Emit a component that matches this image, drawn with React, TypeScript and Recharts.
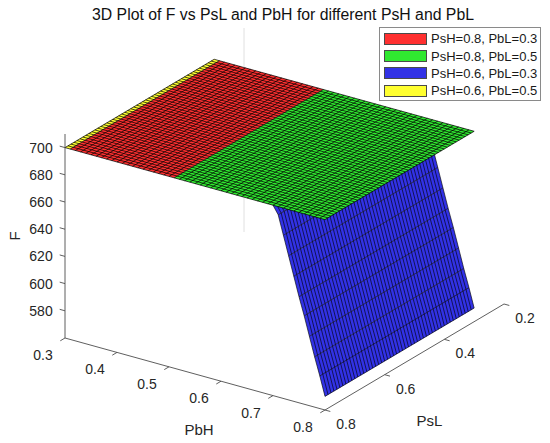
import { ComposedChart, XAxis, YAxis, Area, Line, ReferenceDot, Legend } from "recharts";

const FONT = '"Liberation Sans", Arial, Helvetica, sans-serif';

const SERIES_NAMES = ["PsH=0.8, PbL=0.3", "PsH=0.8, PbL=0.5", "PsH=0.6, PbL=0.3", "PsH=0.6, PbL=0.5"];
const SERIES_COLORS = ["#ff3030", "#30e830", "#3232e6", "#ffff30"];

// surface nodes, same list used for PbH and PsL
const MESH = [
  0.3, 0.31, 0.32, 0.33, 0.34, 0.35, 0.36, 0.37, 0.38, 0.39, 0.4, 0.41, 0.42, 0.43, 0.44, 0.45, 0.46,
  0.47, 0.48, 0.49, 0.5, 0.51, 0.52, 0.53, 0.54, 0.55, 0.56, 0.57, 0.58, 0.59, 0.6, 0.61, 0.62, 0.63,
  0.64, 0.65, 0.66, 0.67, 0.68, 0.69, 0.7, 0.71, 0.72, 0.73, 0.74, 0.75, 0.76, 0.77, 0.78, 0.79, 0.8,
];

// flat top shared by the surfaces, and which one shows through where (PbH bands)
const PLATEAU_F = 700;
const BAND_SERIES = [3, 0, 1];
const BAND_FROM = [0.3, 0.31, 0.51];
const BAND_TO = [0.31, 0.51, 0.8];

// PsH=0.6, PbL=0.3 drops off at high PbH
const CLIFF_PBH = [0.7, 0.71, 0.72, 0.73, 0.74, 0.75, 0.76, 0.77, 0.78, 0.79, 0.8];
const CLIFF_F = [700, 694, 680, 666, 652, 638, 625, 611, 597, 584, 570];

const PBH_TICKS = [0.3, 0.4, 0.5, 0.6, 0.7, 0.8];
const PSL_TICKS = [0.2, 0.4, 0.6, 0.8];
const F_TICKS = [580, 600, 620, 640, 660, 680, 700];

const PBH_LIM = [0.3, 0.8];
const PSL_LIM = [0.2, 0.8];
const F_LIM = [560, 710];

// camera: where the front-bottom corner lands and how each axis runs on screen
const VIEW = { ox: 65, oy: 338, pbhX: 260, pbhY: 72, pslX: 179, pslY: -106, fH: 204 };

type Pt = { u: number; v: number | null };

function project(pbh: number, psl: number, f: number): Pt {
  const t1 = (pbh - PBH_LIM[0]) / (PBH_LIM[1] - PBH_LIM[0]);
  const t2 = (PSL_LIM[1] - psl) / (PSL_LIM[1] - PSL_LIM[0]);
  const t3 = (f - F_LIM[0]) / (F_LIM[1] - F_LIM[0]);
  return {
    u: VIEW.ox + t1 * VIEW.pbhX + t2 * VIEW.pslX,
    v: VIEW.oy + t1 * VIEW.pbhY + t2 * VIEW.pslY - t3 * VIEW.fH,
  };
}

// polylines joined into one series, broken by null points
function joined(lines: Pt[][]): Pt[] {
  const out: Pt[] = [];
  lines.forEach((l) => {
    if (!l.length) return;
    out.push(...l);
    out.push({ u: l[l.length - 1].u, v: null });
  });
  return out;
}

// convex polygon -> ranged area data
function toRange(poly: Pt[]) {
  const us = Array.from(new Set(poly.map((p) => p.u))).sort((a, b) => a - b);
  return us.map((u) => {
    const vs: number[] = [];
    for (let i = 0; i < poly.length; i++) {
      const p = poly[i];
      const q = poly[(i + 1) % poly.length];
      const lo = Math.min(p.u, q.u);
      const hi = Math.max(p.u, q.u);
      if (u < lo - 1e-9 || u > hi + 1e-9) continue;
      if (Math.abs(q.u - p.u) < 1e-9) {
        vs.push(p.v as number, q.v as number);
        continue;
      }
      const t = (u - p.u) / (q.u - p.u);
      vs.push((p.v as number) + t * ((q.v as number) - (p.v as number)));
    }
    return { u, r: [Math.min(...vs), Math.max(...vs)] };
  });
}

const pslLo = MESH[0];
const pslHi = MESH[MESH.length - 1];
const pbhLo = MESH[0];
const pbhHi = MESH[MESH.length - 1];

// projected outline of the flat top, used to hide what lies behind it
const topOutline = [
  project(pbhLo, pslLo, PLATEAU_F),
  project(pbhHi, pslLo, PLATEAU_F),
  project(pbhHi, pslHi, PLATEAU_F),
  project(pbhLo, pslHi, PLATEAU_F),
];
const cu = topOutline.reduce((s, p) => s + p.u, 0) / 4;
const cv = topOutline.reduce((s, p) => s + (p.v as number), 0) / 4;

// parts of a segment that fall outside the convex outline
function outsideParts(p0: Pt, p1: Pt): Pt[][] {
  const dx = p1.u - p0.u;
  const dy = (p1.v as number) - (p0.v as number);
  let tE = 0;
  let tL = 1;
  for (let i = 0; i < topOutline.length; i++) {
    const a = topOutline[i];
    const b = topOutline[(i + 1) % topOutline.length];
    let nx = -((b.v as number) - (a.v as number));
    let ny = b.u - a.u;
    if (nx * (cu - a.u) + ny * (cv - (a.v as number)) < 0) {
      nx = -nx;
      ny = -ny;
    }
    const N = nx * (p0.u - a.u) + ny * ((p0.v as number) - (a.v as number));
    const D = nx * dx + ny * dy;
    if (Math.abs(D) < 1e-12) {
      if (N < 0) return [[p0, p1]];
      continue;
    }
    const t = -N / D;
    if (D > 0) tE = Math.max(tE, t);
    else tL = Math.min(tL, t);
  }
  if (tE >= tL - 1e-6) return [[p0, p1]];
  const at = (t: number): Pt => ({ u: p0.u + t * dx, v: (p0.v as number) + t * dy });
  const parts: Pt[][] = [];
  if (tE > 1e-6) parts.push([p0, at(tE)]);
  if (tL < 1 - 1e-6) parts.push([at(tL), p1]);
  return parts;
}

function visible(line: Pt[]): Pt[][] {
  const out: Pt[][] = [];
  for (let i = 0; i < line.length - 1; i++) out.push(...outsideParts(line[i], line[i + 1]));
  return out;
}

const cliffStrips = CLIFF_PBH.slice(0, -1).map((pb, i) =>
  toRange([
    project(pb, pslHi, CLIFF_F[i]),
    project(CLIFF_PBH[i + 1], pslHi, CLIFF_F[i + 1]),
    project(CLIFF_PBH[i + 1], pslLo, CLIFF_F[i + 1]),
    project(pb, pslLo, CLIFF_F[i]),
  ])
);

const cliffMesh = joined(
  [
    ...CLIFF_PBH.map((pb, i) => [project(pb, pslLo, CLIFF_F[i]), project(pb, pslHi, CLIFF_F[i])]),
    ...MESH.map((ps) => CLIFF_PBH.map((pb, i) => project(pb, ps, CLIFF_F[i]))),
  ].flatMap(visible)
);

const bands = BAND_SERIES.map((s, i) => ({
  color: SERIES_COLORS[s],
  data: toRange([
    project(BAND_FROM[i], pslLo, PLATEAU_F),
    project(BAND_TO[i], pslLo, PLATEAU_F),
    project(BAND_TO[i], pslHi, PLATEAU_F),
    project(BAND_FROM[i], pslHi, PLATEAU_F),
  ]),
}));

const topMesh = joined([
  ...MESH.map((pb) => [project(pb, pslLo, PLATEAU_F), project(pb, pslHi, PLATEAU_F)]),
  ...MESH.map((ps) => [project(pbhLo, ps, PLATEAU_F), project(pbhHi, ps, PLATEAU_F)]),
]);

// axes
const TICK = 5.5;
const aLen = Math.hypot(VIEW.pbhX, VIEW.pbhY);
const bLen = Math.hypot(VIEW.pslX, VIEW.pslY);
const aHat = [VIEW.pbhX / aLen, VIEW.pbhY / aLen];
const bHat = [VIEW.pslX / bLen, VIEW.pslY / bLen];

function tickSeg(p: Pt, dir: number[], sign: number): Pt[] {
  return [p, { u: p.u + sign * dir[0] * TICK, v: (p.v as number) + sign * dir[1] * TICK }];
}

const axisLines = joined([
  [project(PBH_LIM[0], PSL_LIM[1], F_LIM[0]), project(PBH_LIM[0], PSL_LIM[1], F_LIM[1])],
  [project(PBH_LIM[0], PSL_LIM[1], F_LIM[0]), project(PBH_LIM[1], PSL_LIM[1], F_LIM[0])],
  [project(PBH_LIM[1], PSL_LIM[1], F_LIM[0]), project(PBH_LIM[1], PSL_LIM[0], F_LIM[0])],
  ...F_TICKS.map((f) => tickSeg(project(PBH_LIM[0], PSL_LIM[1], f), aHat, -1)),
  ...PBH_TICKS.map((pb) => tickSeg(project(pb, PSL_LIM[1], F_LIM[0]), bHat, -1)),
  ...PSL_TICKS.map((ps) => tickSeg(project(PBH_LIM[1], ps, F_LIM[0]), aHat, 1)),
]);

const backEdge = joined(
  visible([project(PBH_LIM[0], PSL_LIM[0], F_LIM[0]), project(PBH_LIM[0], PSL_LIM[0], F_LIM[1])])
);

type TextMark = { u: number; v: number; text: string; size: number; angle?: number };

const labels: TextMark[] = [
  ...F_TICKS.map((f) => {
    const p = project(PBH_LIM[0], PSL_LIM[1], f);
    return { u: p.u - 24, v: p.v as number, text: String(f), size: 14 };
  }),
  ...PBH_TICKS.map((pb) => {
    const p = project(pb, PSL_LIM[1], F_LIM[0]);
    return { u: p.u - 22, v: (p.v as number) + 17, text: pb.toFixed(1), size: 14 };
  }),
  ...PSL_TICKS.map((ps) => {
    const p = project(PBH_LIM[1], ps, F_LIM[0]);
    return { u: p.u + 21, v: (p.v as number) + 14, text: ps.toFixed(1), size: 14 };
  }),
];

const fMid = project(PBH_LIM[0], PSL_LIM[1], (F_LIM[0] + F_LIM[1]) / 2);
const pbhMid = project((PBH_LIM[0] + PBH_LIM[1]) / 2, PSL_LIM[1], F_LIM[0]);
const pslMid = project(PBH_LIM[1], (PSL_LIM[0] + PSL_LIM[1]) / 2, F_LIM[0]);
const titles: TextMark[] = [
  { u: fMid.u - 50, v: fMid.v as number, text: "F", size: 15, angle: -90 },
  { u: pbhMid.u + 4, v: (pbhMid.v as number) + 56, text: "PbH", size: 15 },
  { u: pslMid.u + 15, v: (pslMid.v as number) + 64, text: "PsL", size: 15 },
];

function LegendBox() {
  return (
    <div
      style={{
        border: "1px solid #8a8a8a",
        background: "#fff",
        boxSizing: "border-box",
        width: 162,
        height: 74,
        padding: "2px 0 0 4px",
        fontFamily: FONT,
      }}
    >
      {SERIES_NAMES.map((name, i) => (
        <div key={name} style={{ display: "flex", alignItems: "center", height: 17.4 }}>
          <span
            style={{
              display: "inline-block",
              flex: "0 0 43px",
              width: 43,
              height: 12,
              background: SERIES_COLORS[i],
              border: "1px solid #4a4a4a",
              boxSizing: "border-box",
              marginRight: 4,
            }}
          />
          <span style={{ fontSize: 13, lineHeight: "13px", color: "#1a1a1a", whiteSpace: "nowrap" }}>{name}</span>
        </div>
      ))}
    </div>
  );
}

const noLegend = { legendType: "none" as const, isAnimationActive: false };

export default function App() {
  return (
    <div style={{ position: "absolute", left: 0, top: 0, width: 550, height: 443, background: "#fff" }}>
      <ComposedChart width={550} height={443} margin={{ top: 0, right: 0, bottom: 0, left: 0 }}>
        <XAxis type="number" dataKey="u" domain={[0, 550]} hide allowDataOverflow />
        <YAxis type="number" domain={[0, 443]} reversed hide allowDataOverflow />
        {cliffStrips.map((d, i) => (
          <Area
            key={"c" + i}
            data={d}
            dataKey="r"
            type="linear"
            fill={SERIES_COLORS[2]}
            fillOpacity={1}
            stroke="none"
            {...noLegend}
          />
        ))}
        {bands.map((b, i) => (
          <Area
            key={"b" + i}
            data={b.data}
            dataKey="r"
            type="linear"
            fill={b.color}
            fillOpacity={1}
            stroke="none"
            {...noLegend}
          />
        ))}
        <Line data={backEdge} dataKey="v" stroke="#e0e0e0" strokeWidth={1} dot={false} activeDot={false} {...noLegend} />
        <Line
          data={cliffMesh}
          dataKey="v"
          stroke="#000"
          strokeWidth={0.7}
          strokeOpacity={0.9}
          dot={false}
          activeDot={false}
          {...noLegend}
        />
        <Line
          data={topMesh}
          dataKey="v"
          stroke="#000"
          strokeWidth={0.8}
          strokeOpacity={0.9}
          dot={false}
          activeDot={false}
          {...noLegend}
        />
        <Line data={axisLines} dataKey="v" stroke="#4d4d4d" strokeWidth={0.9} dot={false} activeDot={false} {...noLegend} />
        {[...labels, ...titles].map((t, i) => (
          <ReferenceDot
            key={"t" + i}
            x={t.u}
            y={t.v}
            r={0}
            fill="none"
            stroke="none"
            label={{
              value: t.text,
              position: "center",
              fontSize: t.size,
              fontFamily: FONT,
              fill: "#262626",
              angle: t.angle ?? 0,
            }}
          />
        ))}
        <Legend
          layout="vertical"
          align="center"
          verticalAlign="middle"
          wrapperStyle={{ left: 379, top: 27, width: 162, height: 74 }}
          content={() => <LegendBox />}
        />
      </ComposedChart>
      <div
        style={{
          position: "absolute",
          left: 0,
          top: 7,
          width: 566,
          textAlign: "center",
          fontFamily: FONT,
          fontSize: 15.8,
          lineHeight: "16px",
          color: "#111",
          whiteSpace: "nowrap",
        }}
      >
        3D Plot of F vs PsL and PbH for different PsH and PbL
      </div>
    </div>
  );
}
